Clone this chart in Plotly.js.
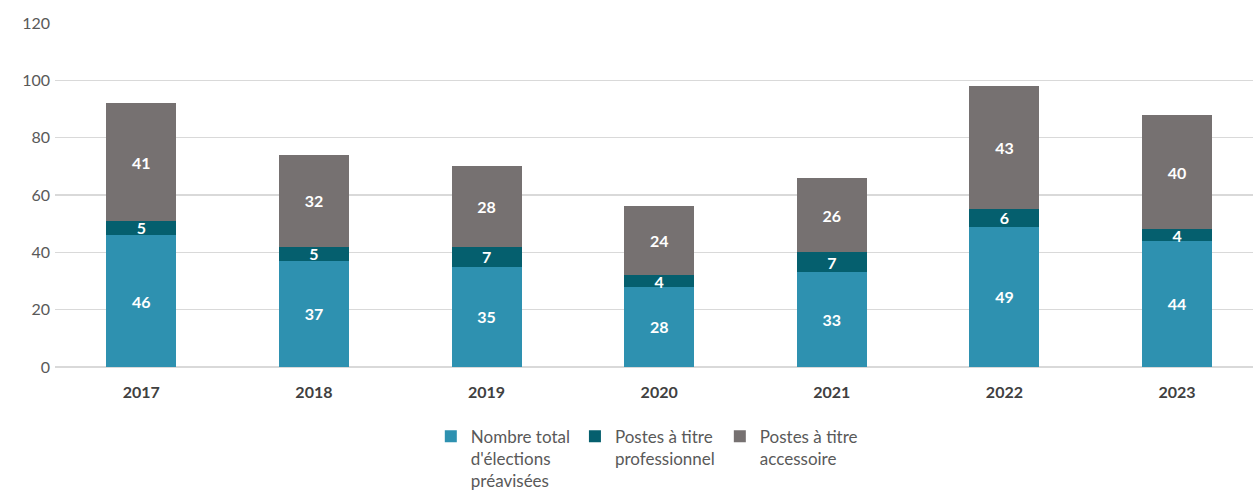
<!DOCTYPE html>
<html>
<head>
<meta charset="utf-8">
<script src="https://cdn.plot.ly/plotly-3.0.1.min.js"></script>
<style>html,body{margin:0;padding:0;background:#fff}#chart{width:1253px;height:492px}</style>
</head>
<body>
<div id="chart"></div>
<script>
const years = ['2017','2018','2019','2020','2021','2022','2023'];
const totalElections = [46,37,35,28,33,49,44];
const postesPro = [5,5,7,4,7,6,4];
const postesAcc = [41,32,28,24,26,43,40];
const names = ["Nombre total<br>d'élections<br>préavisées", "Postes à titre<br>professionnel", "Postes à titre<br>accessoire"];
const colors = ['#2E91B0', '#055F6E', '#767171'];
const series = [totalElections, postesPro, postesAcc];

const traces = series.map((vals, i) => ({
  type: 'bar',
  x: years,
  y: vals,
  name: names[i],
  marker: {color: colors[i]},
  text: vals.map(String),
  textposition: 'inside',
  insidetextanchor: 'middle',
  textangle: 0,
  textfont: {color: '#FFFFFF', size: 16, family: 'Lato, sans-serif', weight: 'bold'},
  hoverinfo: 'none'
}));

const layout = {
  width: 1253, height: 492,
  margin: {l: 55, r: 0, t: 23, b: 125},
  barmode: 'stack',
  bargap: 0.595,
  paper_bgcolor: '#fff', plot_bgcolor: '#fff',
  font: {family: 'Lato, sans-serif', color: '#595959', size: 16},
  uniformtext: {minsize: 16, mode: 'show'},
  xaxis: {
    type: 'category',
    range: [-0.5, 6.44],
    showgrid: false, zeroline: false, showline: false,
    tickfont: {size: 16, color: '#404040', weight: 'bold'},
    ticks: '', ticklabelstandoff: 14
  },
  yaxis: {
    range: [0, 120], dtick: 20,
    showgrid: true, gridcolor: '#D9D9D9', gridwidth: 1.3,
    zeroline: true, zerolinecolor: '#D9D9D9', zerolinewidth: 1.3,
    tickfont: {size: 16, color: '#595959'},
    ticks: '', ticklabelstandoff: 4
  },
  legend: {
    orientation: 'h', x: 0.494, xanchor: 'center',
    yref: 'container', y: 0.149, yanchor: 'top',
    valign: 'top', font: {size: 17, color: '#595959'},
    itemwidth: 30, traceorder: 'normal'
  },
  showlegend: true
};

Plotly.newPlot('chart', traces, layout, {displayModeBar: false, staticPlot: true});
</script>
</body>
</html>
